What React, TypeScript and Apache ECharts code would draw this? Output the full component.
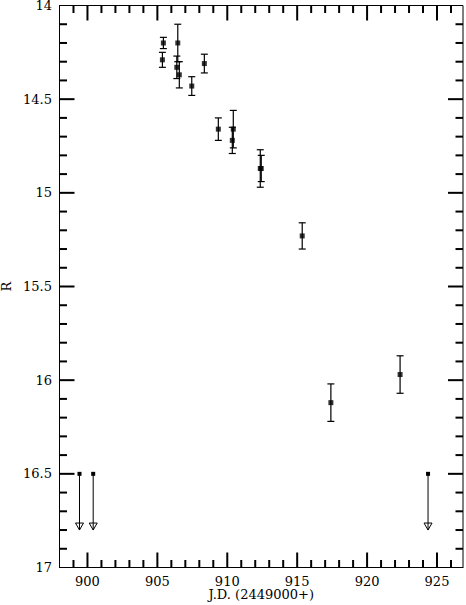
import React, { useEffect, useRef } from "react";
import * as echarts from "echarts";

// Measured points: J.D. (2449000+), R magnitude, error
const jd = [905.43, 905.36, 906.46, 906.39, 906.57, 907.46, 908.36, 909.36, 910.43, 910.36, 912.36, 912.43, 915.36, 917.41, 922.36];
const rMag = [14.2, 14.29, 14.2, 14.33, 14.37, 14.43, 14.31, 14.66, 14.66, 14.72, 14.87, 14.87, 15.23, 16.12, 15.97];
const rErr = [0.03, 0.04, 0.1, 0.06, 0.07, 0.05, 0.05, 0.06, 0.1, 0.07, 0.1, 0.07, 0.07, 0.1, 0.1];

// Upper limits
const limJd = [899.43, 900.41, 924.36];
const limMag = [16.5, 16.5, 16.5];
const limArrowTo = [16.8, 16.8, 16.8];

// Ticks
const xMajorTicks = [900, 905, 910, 915, 920, 925];
const xMinorTicks = [899, 901, 902, 903, 904, 906, 907, 908, 909, 911, 912, 913, 914, 916, 917, 918, 919, 921, 922, 923, 924, 926];
const yMajorTicks = [14.5, 15, 15.5, 16, 16.5];
const yMinorTicks = [14.1, 14.2, 14.3, 14.4, 14.6, 14.7, 14.8, 14.9, 15.1, 15.2, 15.3, 15.4, 15.6, 15.7, 15.8, 15.9, 16.1, 16.2, 16.3, 16.4, 16.6, 16.7, 16.8, 16.9];

const X_MIN = 898;
const X_MAX = 926.86;
const Y_MIN = 14;
const Y_MAX = 17;

const FONT = "DejaVu Serif";
const TICK_W = 2;

function xTickSeries(values: number[], len: number) {
  return {
    type: "custom",
    data: values.map((v) => [v, 15]),
    renderItem: (params: any, api: any) => {
      const b = api.coord([api.value(0), Y_MAX]);
      const t = api.coord([api.value(0), Y_MIN]);
      return {
        type: "group",
        children: [
          { type: "line", shape: { x1: b[0], y1: b[1], x2: b[0], y2: b[1] - len }, style: { stroke: "#000", lineWidth: TICK_W } },
          { type: "line", shape: { x1: t[0], y1: t[1], x2: t[0], y2: t[1] + len }, style: { stroke: "#000", lineWidth: TICK_W } },
        ],
      };
    },
  };
}

function yTickSeries(values: number[], len: number) {
  return {
    type: "custom",
    data: values.map((v) => [910, v]),
    renderItem: (params: any, api: any) => {
      const l = api.coord([X_MIN, api.value(1)]);
      const r = api.coord([X_MAX, api.value(1)]);
      return {
        type: "group",
        children: [
          { type: "line", shape: { x1: l[0], y1: l[1], x2: l[0] + len, y2: l[1] }, style: { stroke: "#000", lineWidth: TICK_W } },
          { type: "line", shape: { x1: r[0], y1: r[1], x2: r[0] - len, y2: r[1] }, style: { stroke: "#000", lineWidth: TICK_W } },
        ],
      };
    },
  };
}

export default function App() {
  const ref = useRef<HTMLDivElement>(null);
  useEffect(() => {
    const chart = echarts.init(ref.current!, undefined, { renderer: "svg" });
    const option: any = {
      animation: false,
      grid: {
        left: 59.5, right: 3, top: 5.5, bottom: 37.5,
        containLabel: false, outerBoundsMode: "none",
        show: true, borderColor: "#000", borderWidth: 1, backgroundColor: "transparent",
      },
      xAxis: {
        type: "value",
        min: X_MIN,
        max: X_MAX,
        splitLine: { show: false },
        axisLine: { show: true, onZero: false, lineStyle: { color: "#000", width: 1 } },
        axisTick: { show: false },
        name: "J.D. (2449000+)",
        nameLocation: "middle",
        nameGap: 21,
        nameMoveOverlap: false,
        nameTextStyle: { fontFamily: FONT, fontSize: 13, color: "#000", lineHeight: 11 },
        axisLabel: { show: true, customValues: xMajorTicks, margin: 8, fontFamily: FONT, fontSize: 13, color: "#000", lineHeight: 11 },
      },
      yAxis: {
        type: "value",
        min: Y_MIN,
        max: Y_MAX,
        inverse: true,
        interval: 0.5,
        splitLine: { show: false },
        axisLine: { show: true, onZero: false, lineStyle: { color: "#000", width: 1 } },
        axisTick: { show: false },
        name: "R",
        nameLocation: "middle",
        nameRotate: 90,
        nameGap: 47,
        nameMoveOverlap: false,
        nameTextStyle: { fontFamily: FONT, fontSize: 13, color: "#000" },
        axisLabel: { show: true, margin: 7.5, fontFamily: FONT, fontSize: 13, color: "#000", lineHeight: 11 },
      },
      series: [
        xTickSeries(xMajorTicks, 15),
        xTickSeries(xMinorTicks, 7.5),
        yTickSeries(yMajorTicks, 15),
        yTickSeries(yMinorTicks, 7.5),
        {
          // error bars
          type: "custom",
          data: jd.map((x, i) => [x, rMag[i], rErr[i]]),
          renderItem: (params: any, api: any) => {
            const x = api.value(0);
            const y = api.value(1);
            const e = api.value(2);
            const top = api.coord([x, y - e]);
            const bot = api.coord([x, y + e]);
            const cw = 3.5;
            return {
              type: "group",
              children: [
                { type: "line", shape: { x1: top[0], y1: top[1], x2: bot[0], y2: bot[1] }, style: { stroke: "#000", lineWidth: 1.2 } },
                { type: "line", shape: { x1: top[0] - cw, y1: top[1], x2: top[0] + cw, y2: top[1] }, style: { stroke: "#000", lineWidth: 1.2 } },
                { type: "line", shape: { x1: bot[0] - cw, y1: bot[1], x2: bot[0] + cw, y2: bot[1] }, style: { stroke: "#000", lineWidth: 1.2 } },
              ],
            };
          },
        },
        {
          type: "scatter",
          symbol: "rect",
          symbolSize: 5,
          itemStyle: { color: "#000" },
          data: jd.map((x, i) => [x, rMag[i]]),
        },
        {
          // upper limits with open arrow heads
          type: "custom",
          data: limJd.map((x, i) => [x, limMag[i], limArrowTo[i]]),
          renderItem: (params: any, api: any) => {
            const p0 = api.coord([api.value(0), api.value(1)]);
            const p1 = api.coord([api.value(0), api.value(2)]);
            const hw = 4;
            const hh = 7;
            return {
              type: "group",
              children: [
                {
                  type: "polygon",
                  shape: { points: [[p1[0] - hw, p1[1] - hh], [p1[0] + hw, p1[1] - hh], [p1[0], p1[1]]] },
                  style: { fill: "#fff", stroke: "#000", lineWidth: 1 },
                },
                { type: "line", shape: { x1: p0[0], y1: p0[1], x2: p1[0], y2: p1[1] }, style: { stroke: "#000", lineWidth: 1 } },
                { type: "rect", shape: { x: p0[0] - 2, y: p0[1] - 2, width: 4, height: 4 }, style: { fill: "#000" } },
              ],
            };
          },
        },
      ],
    };
    chart.setOption(option);
    return () => chart.dispose();
  }, []);
  return <div ref={ref} style={{ position: "absolute", left: 0, top: 0, width: 466, height: 605 }} />;
}
